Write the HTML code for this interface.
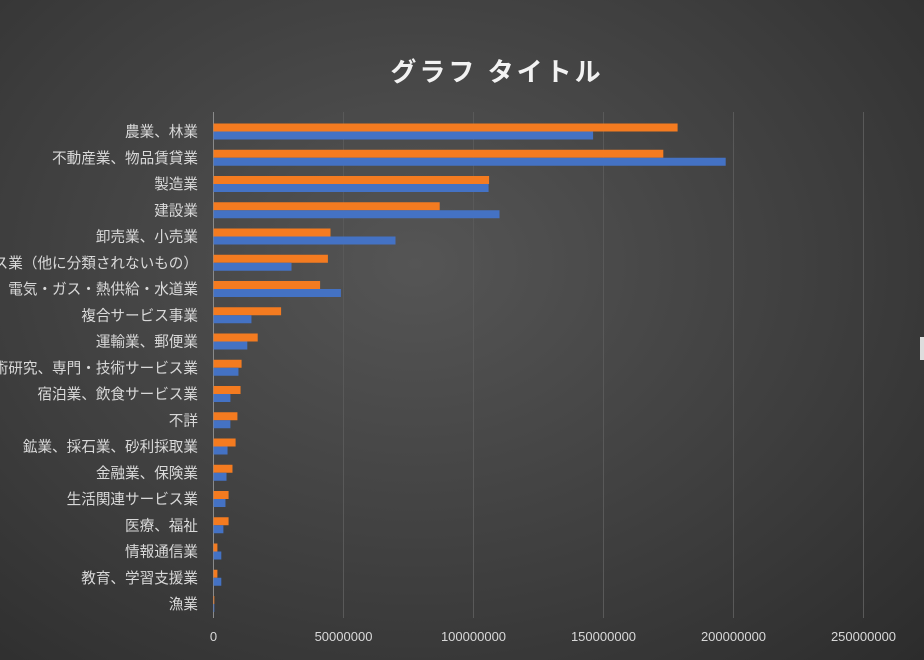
<!DOCTYPE html>
<html><head><meta charset="utf-8"><style>
html,body{margin:0;padding:0;}
body{width:924px;height:660px;overflow:hidden;background:radial-gradient(ellipse at 45% 40%,#555 0%,#3d3d3d 60%,#2c2c2c 100%);font-family:"Liberation Sans","Noto Sans CJK JP",sans-serif;}
svg{display:block;}
</style></head><body>
<svg id="chart" width="924" height="660">
<text x="497" y="81" text-anchor="middle" fill="#f2f2f2" font-size="26" font-weight="bold" letter-spacing="3" font-family="Liberation Sans, Noto Sans CJK JP, sans-serif">グラフ タイトル</text>
<rect x="920" y="337" width="4" height="23" fill="#ddd"/>
<g id="grid"></g><g id="bars"></g><g id="labels"></g>
</svg>
<script>
const categories=["農業、林業","不動産業、物品賃貸業","製造業","建設業","卸売業、小売業","サービス業（他に分類されないもの）","電気・ガス・熱供給・水道業","複合サービス事業","運輸業、郵便業","学術研究、専門・技術サービス業","宿泊業、飲食サービス業","不詳","鉱業、採石業、砂利採取業","金融業、保険業","生活関連サービス業","医療、福祉","情報通信業","教育、学習支援業","漁業"];
const seriesOrange=[178500000,173000000,106000000,87000000,45000000,44000000,41000000,26000000,17000000,10800000,10400000,9200000,8500000,7300000,5800000,5800000,1500000,1500000,300000];
const seriesBlue=[146000000,197000000,105800000,110000000,70000000,30000000,49000000,14600000,13000000,9600000,6500000,6500000,5400000,5000000,4600000,3800000,3000000,3000000,300000];
const tickValues=[0,50000000,100000000,150000000,200000000,250000000];
const tickLabels=["0","50000000","100000000","150000000","200000000","250000000"];
const NS="http://www.w3.org/2000/svg";
const x0=213.5,pxPer=130/50000000,plotTop=118.5,band=26.25,plotBottom=618;
const xs=v=>x0+v*pxPer;
const yc=i=>plotTop+band*i+13;
function mk(tag,attrs,parent){const e=document.createElementNS(NS,tag);for(const k in attrs)e.setAttribute(k,attrs[k]);parent.appendChild(e);return e;}
const grid=document.getElementById('grid'),bars=document.getElementById('bars'),labels=document.getElementById('labels');
tickValues.forEach((v,i)=>{
 const l=mk('line',{x1:xs(v),x2:xs(v),y1:112,y2:plotBottom,stroke:i==0?'#8a8a8a':'#595959','stroke-width':1},grid);
 
 
 const t=mk('text',{x:xs(v),y:641,'text-anchor':'middle',fill:'#d9d9d9','font-size':13},labels);
 t.textContent=tickLabels[i];
 
 
});
categories.forEach((c,i)=>{
 const cy=yc(i);
 const o=mk('rect',{x:x0,y:cy-8,width:Math.max(0.8,xs(seriesOrange[i])-x0),height:8,fill:'#f47b20'},bars);
 
 
 const b=mk('rect',{x:x0,y:cy,width:Math.max(0.8,xs(seriesBlue[i])-x0),height:8,fill:'#4472c4'},bars);
 
 
 const t=mk('text',{x:198,y:cy+5,'text-anchor':'end',fill:'#d9d9d9','font-size':14.6},labels);
 t.textContent=c;
 
 
});
</script>
</body></html>
